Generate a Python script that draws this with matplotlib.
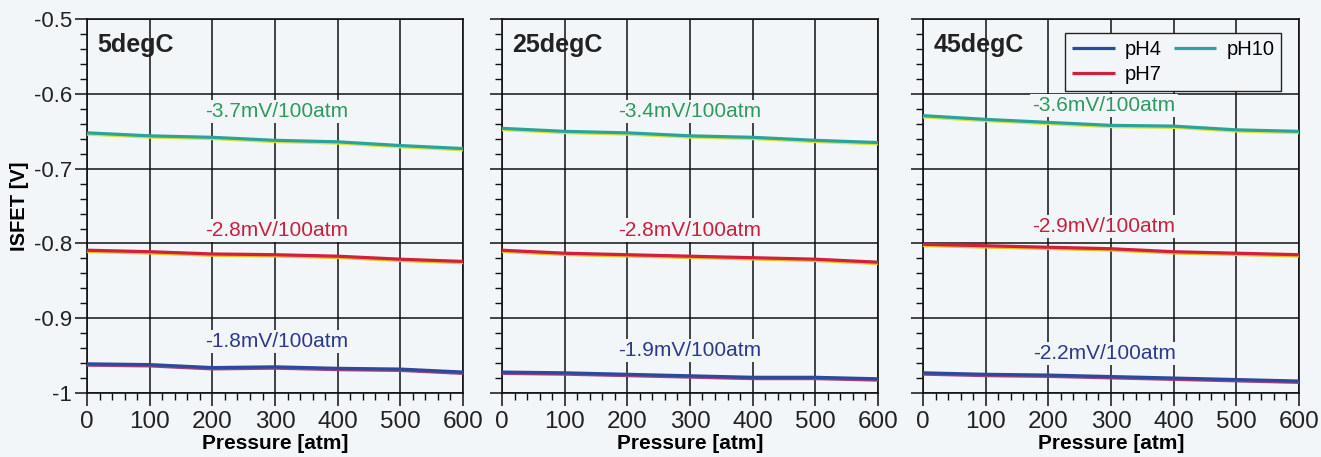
import numpy as np
import matplotlib
matplotlib.use("Agg")
import matplotlib.pyplot as plt
from matplotlib.ticker import MultipleLocator
from matplotlib.transforms import offset_copy

plt.rcParams['font.family'] = ['Liberation Sans', 'DejaVu Sans']

# pressure points [atm]
pressure = [0, 100, 200, 300, 400, 500, 600]

# ISFET output [V], one list per temperature and pH
ph4_5c = [-0.961, -0.962, -0.966, -0.965, -0.967, -0.968, -0.972]
ph7_5c = [-0.809, -0.811, -0.814, -0.815, -0.817, -0.821, -0.824]
ph10_5c = [-0.652, -0.656, -0.658, -0.662, -0.664, -0.669, -0.673]

ph4_25c = [-0.972, -0.973, -0.975, -0.977, -0.979, -0.979, -0.981]
ph7_25c = [-0.809, -0.813, -0.815, -0.817, -0.819, -0.821, -0.825]
ph10_25c = [-0.646, -0.650, -0.652, -0.656, -0.658, -0.662, -0.665]

ph4_45c = [-0.973, -0.975, -0.976, -0.978, -0.980, -0.982, -0.984]
ph7_45c = [-0.801, -0.803, -0.805, -0.807, -0.811, -0.813, -0.815]
ph10_45c = [-0.629, -0.634, -0.638, -0.642, -0.643, -0.648, -0.650]

temps = ["5degC", "25degC", "45degC"]
slopes_ph4 = ["-1.8mV/100atm", "-1.9mV/100atm", "-2.2mV/100atm"]
slopes_ph7 = ["-2.8mV/100atm", "-2.8mV/100atm", "-2.9mV/100atm"]
slopes_ph10 = ["-3.7mV/100atm", "-3.4mV/100atm", "-3.6mV/100atm"]

data = [
    (ph4_5c, ph7_5c, ph10_5c),
    (ph4_25c, ph7_25c, ph10_25c),
    (ph4_45c, ph7_45c, ph10_45c),
]

# label positions (pressure, voltage) for the slope annotations
label_x = [303, 300, 289]
label_y_ph4 = [-0.931, -0.943, -0.947]
label_y_ph7 = [-0.783, -0.782, -0.777]
label_y_ph10 = [-0.623, -0.623, -0.615]

bg = '#f3f6f9'
c_ph4, e_ph4 = '#2b4a9b', '#a0407e'
c_ph7, e_ph7 = '#d0203c', '#e8c020'
c_ph10, e_ph10 = '#2aa39a', '#dce43c'
t_ph4, t_ph7, t_ph10 = '#2c3a8c', '#c8203c', '#2e9a5e'

fig = plt.figure(figsize=(13.21, 4.57), dpi=100, facecolor=bg)
lefts = [0.0659, 0.3800, 0.6987]
width = 0.2846
bottom, top = 0.140, 0.958

for i in range(3):
    ax = fig.add_axes([lefts[i], bottom, width, top - bottom], facecolor=bg)
    ph4, ph7, ph10 = data[i]

    lines = []
    for vals, main, edge, name in [(ph4, c_ph4, e_ph4, 'pH4'),
                                   (ph7, c_ph7, e_ph7, 'pH7'),
                                   (ph10, c_ph10, e_ph10, 'pH10')]:
        shifted = offset_copy(ax.transData, fig=fig, x=0, y=-1.3, units='dots')
        ax.plot(pressure, vals, color=edge, lw=2.3, transform=shifted, zorder=3,
                solid_capstyle='butt')
        ln, = ax.plot(pressure, vals, color=main, lw=2.3, zorder=4, label=name,
                      solid_capstyle='butt')
        lines.append(ln)

    box = dict(facecolor=bg, edgecolor='none', pad=1.5)
    ax.text(label_x[i], label_y_ph10[i], slopes_ph10[i], color=t_ph10, fontsize=15,
            ha='center', va='center', bbox=box, zorder=5)
    ax.text(label_x[i], label_y_ph7[i], slopes_ph7[i], color=t_ph7, fontsize=15,
            ha='center', va='center', bbox=box, zorder=5)
    ax.text(label_x[i], label_y_ph4[i], slopes_ph4[i], color=t_ph4, fontsize=15,
            ha='center', va='center', bbox=box, zorder=5)

    ax.text(0.028, 0.93, temps[i], transform=ax.transAxes, fontsize=18,
            fontweight='bold', color='#222222', ha='left', va='center', zorder=5)

    ax.set_xlim(0, 600)
    ax.set_ylim(-1, -0.5)
    ax.xaxis.set_major_locator(MultipleLocator(100))
    ax.xaxis.set_minor_locator(MultipleLocator(20))
    ax.yaxis.set_major_locator(MultipleLocator(0.1))
    ax.yaxis.set_minor_locator(MultipleLocator(0.02))
    ax.grid(True, which='major', color='#111111', lw=1.1)
    ax.set_axisbelow(True)
    ax.tick_params(which='major', direction='out', length=9, width=1.1,
                   color='#111111', labelcolor='#222222')
    ax.tick_params(axis='x', labelsize=17.5, pad=4)
    ax.tick_params(axis='y', labelsize=16, pad=2)
    ax.tick_params(which='minor', direction='out', length=5, width=1.0, color='#111111')
    for s in ax.spines.values():
        s.set_color('#111111')
        s.set_linewidth(1.2)

    ax.set_xlabel("Pressure [atm]", fontsize=15, fontweight='bold', labelpad=1)
    if i == 0:
        ax.set_yticks([-1, -0.9, -0.8, -0.7, -0.6, -0.5])
        ax.set_yticklabels(['-1', '-0.9', '-0.8', '-0.7', '-0.6', '-0.5'])
        ax.set_ylabel("ISFET [V]", fontsize=14.5, fontweight='bold', labelpad=3)
    else:
        ax.tick_params(axis='y', labelleft=False)

    if i == 2:
        leg = ax.legend(handles=lines, ncol=2, loc='upper right', fontsize=14.5,
                        frameon=True, fancybox=False, edgecolor='#222222',
                        facecolor=bg, framealpha=1, handlelength=2.1,
                        columnspacing=0.6, labelspacing=0.3, borderpad=0.35,
                        handletextpad=0.5, bbox_to_anchor=(0.98, 0.99))
        leg.get_frame().set_linewidth(1.0)

fig.savefig("out.png", dpi=100, facecolor=bg)
